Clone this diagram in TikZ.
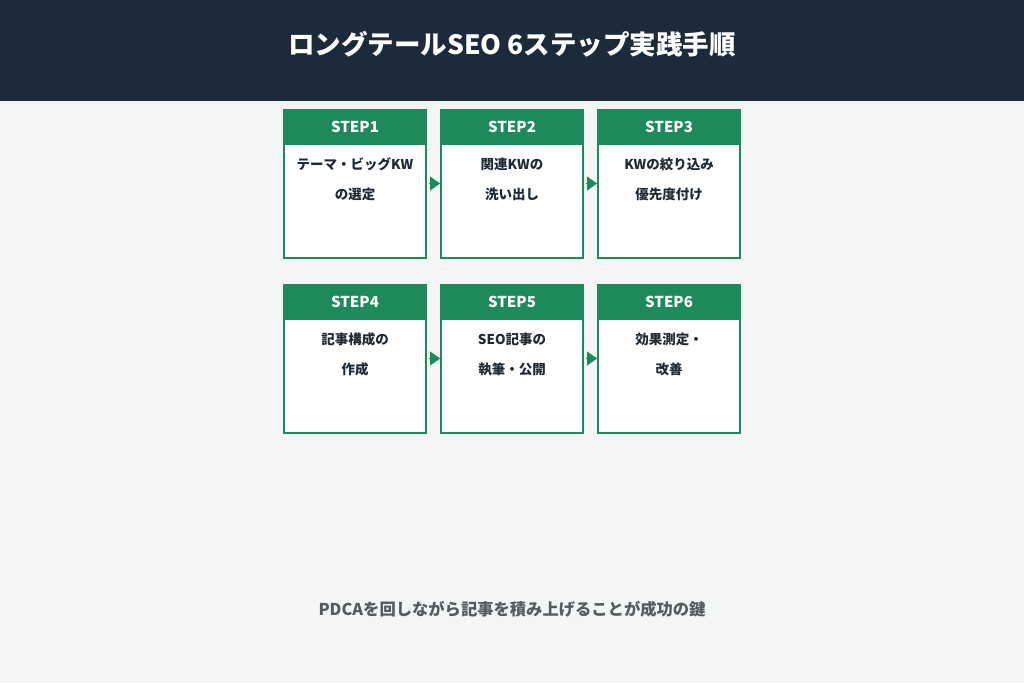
\documentclass[tikz,border=0pt]{standalone}
\usepackage{fontspec}
\setmainfont{Noto Sans CJK JP}
\usetikzlibrary{positioning,arrows.meta}
\definecolor{headnavy}{HTML}{1D2A3A}
\definecolor{stepgreen}{HTML}{1E8A5A}
\definecolor{paper}{HTML}{F4F6F5}
\definecolor{bodyink}{HTML}{1F2A36}
\definecolor{footink}{HTML}{555B5F}
\tikzset{stepbox/.style={draw=stepgreen,fill=white,line width=2pt,minimum width=142pt,minimum height=148pt,inner sep=0pt},
         stephead/.style={fill=stepgreen,text=white,minimum width=144pt,minimum height=36pt,inner sep=0pt,anchor=north,font=\bfseries\fontsize{15}{18}\selectfont},
         steptext/.style={text=bodyink,align=center,inner sep=0pt,font=\bfseries\fontsize{13.5}{30}\selectfont},
         next/.style={draw=stepgreen,fill=stepgreen,line width=0.1pt,shorten <=2pt,-{Triangle[length=10pt,width=14pt]}},
            }

\begin{document}
\begin{tikzpicture}[x=1pt,y=-1pt,node distance=13pt]

    \fill[paper] (0,0) rectangle (1024,683);
    \fill[headnavy] (0,0) rectangle (1024,101);
    \node[text=white,font=\bfseries\fontsize{26.5}{30}\selectfont] (title) at (512,44) {ロングテールSEO 6ステップ実践手順};

    \node[stepbox] (s1) at (355,183.5) {};
    \node[stepbox] (s2) [right = of s1] {};
    \node[stepbox] (s3) [right = of s2] {};
    \node[stepbox] (s4) [below = 25pt of s1] {};
    \node[stepbox] (s5) [right = of s4] {};
    \node[stepbox] (s6) [right = of s5] {};

    \draw[next] (s1) -- (s2);
    \draw[next] (s2) -- (s3);
    \draw[next] (s4) -- (s5);
    \draw[next] (s5) -- (s6);

    \foreach \i/\txt in {1/テーマ・ビッグKW\\の選定, 2/関連KWの\\洗い出し, 3/KWの絞り込み\\優先度付け,
                         4/記事構成の\\作成, 5/SEO記事の\\執筆・公開, 6/効果測定・\\改善} {
        \node[stephead] (h\i) at (s\i.north) {STEP\i};
        \node[steptext] (t\i) at ([yshift=-71pt]s\i.north) {\txt};
    }

    \node[text=footink,font=\bfseries\fontsize{16.3}{20}\selectfont] (foot) at (512,609) {PDCAを回しながら記事を積み上げることが成功の鍵};

\end{tikzpicture}
\end{document}
